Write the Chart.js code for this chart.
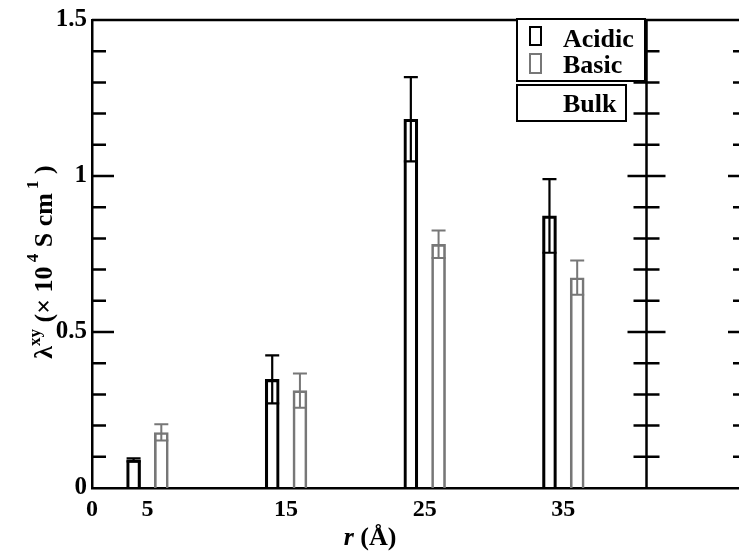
<!DOCTYPE html>
<html>
<head>
<meta charset="utf-8">
<script src="https://cdn.jsdelivr.net/npm/chart.js@4"></script>
<style>
  body { margin: 0; background: #fff; }
  canvas { display: block; }
</style>
</head>
<body>
<canvas id="chartLambda" width="739" height="553"></canvas>
<script>
// ============================= DADOS =============================
const rValues = [5, 15, 25, 35]
const acidic = [0.09, 0.348, 1.182, 0.872]
const acidicErr = [0.005, 0.077, 0.135, 0.118]
const basic = [0.178, 0.312, 0.781, 0.674]
const basicErr = [0.026, 0.055, 0.044, 0.055]

const xTickValues = [1, 5, 15, 25, 35]
const xTickLabels = ['0', '5', '15', '25', '35']
const yTickValues = [0, 0.5, 1, 1.5]
const yTickLabels = ['0', '0.5', '1', '1.5']
const bulkDivider = 41
const pairShift = 1

const serif = "'Liberation Serif', 'DejaVu Serif', serif"
const grey = '#777'

// ============================= PLUGINS =============================
const errorBars = {
    id: 'errorBars',
    afterDatasetsDraw(chart){
        const ctx = chart.ctx
        const yScale = chart.scales.y
        const errs = [acidicErr, basicErr]
        const vals = [acidic, basic]
        const colors = ['#000', grey]
        chart.data.datasets.forEach((ds, i) => {
            const meta = chart.getDatasetMeta(i)
            ctx.save()
            ctx.strokeStyle = colors[i]
            ctx.lineWidth = i === 0 ? 2.2 : 2
            meta.data.forEach((bar, j) => {
                const half = bar.width / 2
                const top = yScale.getPixelForValue(vals[i][j] + errs[i][j])
                const low = yScale.getPixelForValue(vals[i][j] - errs[i][j])
                ctx.beginPath()
                ctx.moveTo(bar.x, low)
                ctx.lineTo(bar.x, top)
                ctx.moveTo(bar.x - half, top)
                ctx.lineTo(bar.x + half, top)
                ctx.moveTo(bar.x - half, low)
                ctx.lineTo(bar.x + half, low)
                ctx.stroke()
            })
            ctx.restore()
        })
    }
}

const frameAndLabels = {
    id: 'frameAndLabels',
    afterDraw(chart){
        const ctx = chart.ctx
        const area = chart.chartArea
        const xScale = chart.scales.x
        const yScale = chart.scales.y
        const divX = xScale.getPixelForValue(bulkDivider)

        ctx.save()
        ctx.strokeStyle = '#000'
        ctx.lineWidth = 2.5

        // moldura de cima e divisoria
        ctx.beginPath()
        ctx.moveTo(area.left, area.top)
        ctx.lineTo(chart.width, area.top)
        ctx.moveTo(divX, area.top)
        ctx.lineTo(divX, area.bottom)
        ctx.stroke()

        // ticks para dentro
        for (let k = 1; k < 15; k++){
            const v = k / 10
            const y = yScale.getPixelForValue(v)
            const major = k % 5 === 0
            ctx.beginPath()
            ctx.moveTo(area.left, y)
            ctx.lineTo(area.left + (major ? 22 : 14), y)
            ctx.moveTo(divX - (major ? 19 : 13), y)
            ctx.lineTo(divX + (major ? 19 : 13), y)
            ctx.moveTo(chart.width, y)
            ctx.lineTo(chart.width - (major ? 11 : 6), y)
            ctx.stroke()
        }

        // legenda
        ctx.lineWidth = 2
        ctx.fillStyle = '#fff'
        ctx.fillRect(517, 19, 128, 62)
        ctx.fillRect(517, 85, 109, 36)
        ctx.strokeRect(517, 19, 128, 62)
        ctx.strokeRect(517, 85, 109, 36)
        ctx.strokeRect(530, 27, 11, 18)
        ctx.strokeStyle = grey
        ctx.strokeRect(530, 54, 11, 19)

        ctx.fillStyle = '#000'
        ctx.font = 'bold 26px ' + serif
        ctx.textAlign = 'left'
        ctx.textBaseline = 'alphabetic'
        ctx.fillText('Acidic', 563, 47)
        ctx.fillText('Basic', 563, 73)
        ctx.fillText('Bulk', 563, 112)

        // titulo do eixo x
        ctx.font = 'italic bold 26px ' + serif
        const rW = ctx.measureText('r').width
        ctx.font = 'bold 26px ' + serif
        const restW = ctx.measureText(' (Å)').width
        let x0 = 370 - (rW + restW) / 2
        ctx.font = 'italic bold 26px ' + serif
        ctx.fillText('r', x0, 545)
        ctx.font = 'bold 26px ' + serif
        ctx.fillText(' (Å)', x0 + rW, 545)

        // titulo do eixo y
        ctx.translate(52, 262)
        ctx.rotate(-Math.PI / 2)
        const parts = [
            ['λ', 26, 0], ['xy', 17, -12], [' (× 10', 26, 0], [' 4', 17, -14],
            [' S cm', 26, 0], [' 1', 17, -14], [' )', 26, 0]
        ]
        let total = 0
        parts.forEach(p => {
            ctx.font = 'bold ' + p[1] + 'px ' + serif
            total += ctx.measureText(p[0]).width
        })
        let cx = -total / 2
        parts.forEach(p => {
            ctx.font = 'bold ' + p[1] + 'px ' + serif
            ctx.fillText(p[0], cx, p[2])
            cx += ctx.measureText(p[0]).width
        })
        ctx.restore()
    }
}

// ============================= GRAFICO =============================
const ctxLambda = document.getElementById('chartLambda')

new Chart(ctxLambda, {
    type: 'bar',
    data: {
        datasets: [{
            label: 'Acidic',
            data: rValues.map((r, i) => ({ x: r - pairShift, y: acidic[i] })),
            backgroundColor: 'rgba(0,0,0,0)',
            borderColor: '#000',
            borderWidth: 2.5,
            barThickness: 14,
            grouped: false
        }, {
            label: 'Basic',
            data: rValues.map((r, i) => ({ x: r + pairShift, y: basic[i] })),
            backgroundColor: 'rgba(0,0,0,0)',
            borderColor: grey,
            borderWidth: 2,
            barThickness: 14,
            grouped: false
        }]
    },
    options: {
        responsive: false,
        animation: false,
        layout: { padding: { top: 18, right: 1, left: 0, bottom: 0 } },
        plugins: {
            legend: { display: false },
            tooltip: { enabled: false }
        },
        scales: {
            x: {
                type: 'linear',
                offset: false,
                min: 1,
                max: 47.6,
                grid: { display: false, drawTicks: false },
                border: { display: true, color: '#000', width: 2.5 },
                afterBuildTicks: s => { s.ticks = xTickValues.map(v => ({ value: v })) },
                afterFit: s => { s.height = 65 },
                ticks: {
                    autoSkip: false,
                    maxRotation: 0,
                    padding: 7,
                    color: '#000',
                    font: { family: serif, size: 24, weight: 'bold' },
                    callback: (v, i) => xTickLabels[i]
                }
            },
            y: {
                min: 0,
                max: 1.5,
                grid: { display: false, drawTicks: false },
                border: { display: true, color: '#000', width: 2.5 },
                afterBuildTicks: s => { s.ticks = yTickValues.map(v => ({ value: v })) },
                afterFit: s => { s.width = 92 },
                ticks: {
                    padding: 5,
                    color: '#000',
                    font: { family: serif, size: 25, weight: 'bold' },
                    callback: (v, i) => yTickLabels[i]
                }
            }
        }
    },
    plugins: [errorBars, frameAndLabels]
});
</script>
</body>
</html>
